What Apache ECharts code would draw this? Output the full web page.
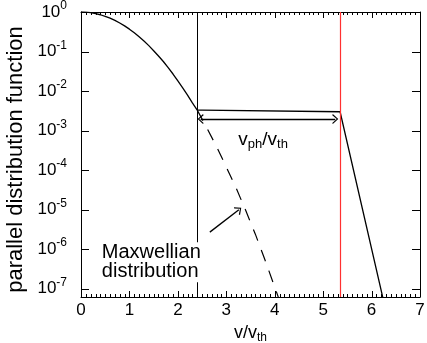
<!DOCTYPE html>
<html>
<head>
<meta charset="utf-8">
<script src="https://cdn.jsdelivr.net/npm/echarts@6/dist/echarts.min.js"></script>
<style>html,body{margin:0;padding:0;background:#fff}#c{width:427px;height:343px}</style>
</head>
<body>
<div id="c"></div>
<script>
// Maxwellian (solid part)
const maxwV = [0, 0.1, 0.2, 0.3, 0.4, 0.5, 0.6, 0.7, 0.8, 0.9, 1.0, 1.1, 1.2, 1.3, 1.4, 1.5, 1.6, 1.7, 1.8, 1.9, 2.0, 2.1, 2.2, 2.3, 2.4];
const maxwF = [1, 0.99, 0.96, 0.914, 0.852, 0.779, 0.698, 0.613, 0.527, 0.445, 0.368, 0.298, 0.237, 0.185, 0.141, 0.105, 0.077, 0.056, 0.039, 0.027, 0.018, 0.012, 0.0079, 0.0050, 0.0033];
// Maxwellian continuation (dashed)
const dashV = [2.4, 2.6, 2.8, 3.0, 3.2, 3.4, 3.6, 3.8, 4.0, 4.1];
const dashF = [0.0033, 0.00116, 3.9e-4, 1.2e-4, 3.6e-5, 9.6e-6, 2.4e-6, 5.3e-7, 1.1e-7, 5e-8];
// plateau and drop
const tailV = [2.4, 2.5, 5.35, 6.3];
const tailF = [0.0033, 0.0033, 0.0030, 2.6e-8];
// vertical markers
const markBlack = 2.4;
const markRed = 5.35;
// double arrow v_ph/v_th
const arrowSpan = [[2.47, 0.00195], [5.25, 0.00195]];
const arrowLabel = [3.76, 5.9e-4];
// Maxwellian annotation arrow
const maxwArrow = [[2.66, 2.7e-6], [3.26, 1.0e-5]];
const maxwLabel = [0.43, 4.7e-7];
// axes
const xMin = 0, xMax = 7;
const yMin = 6.17e-8, yMax = 1;
const xTicks = [0, 1, 2, 3, 4, 5, 6, 7];
const xMinorStep = 0.1;
const yTicks = [1e-7, 1e-6, 1e-5, 1e-4, 1e-3, 1e-2, 1e-1, 1];

const FONT = "'Liberation Sans', Arial, sans-serif";
const TICK_COLOR = '#000000';
const TICK_WIDTH = 1;
const chevron = 'path://M5,0 L10,9 L8.8,10 L5,2.6 L1.2,10 L0,9 Z';

const zip = (a, b) => a.map((v, i) => [v, b[i]]);

function supLabel(value) {
  const l = Math.log10(value);
  const e = Math.round(l);
  if (Math.abs(l - e) > 1e-6) return '';
  return '{b|10}{s|' + e + '}';
}

// draws axis ticks (inside, on all four sides) through the axis scales
function renderTicks(params, api) {
  const cs = params.coordSys;
  const left = cs.x, top = cs.y, right = cs.x + cs.width, bottom = cs.y + cs.height;
  const children = [];
  const seg = (x1, y1, x2, y2) => children.push({type: 'line', shape: {x1: x1, y1: y1, x2: x2, y2: y2},
    style: {stroke: TICK_COLOR, lineWidth: TICK_WIDTH}});
  const yRef = yTicks[yTicks.length - 1];
  xTicks.forEach(v => {
    const px = Math.round(api.coord([v, yRef])[0]) + 0.5;
    seg(px, bottom, px, bottom - 6);
    seg(px, top, px, top + 6);
  });
  for (let i = 1; i < Math.round((xMax - xMin) / xMinorStep); i++) {
    if (i % 10 === 0) continue;
    const v = xMin + i * xMinorStep;
    const px = Math.round(api.coord([v, yRef])[0]) + 0.5;
    seg(px, bottom, px, bottom - 3);
    seg(px, top, px, top + 3);
  }
  yTicks.forEach(v => {
    const py = Math.round(api.coord([xMin, v])[1]) + 0.5;
    seg(left, py, left + 8, py);
    seg(right, py, right - 8, py);
  });
  return {type: 'group', children: children};
}

const chart = echarts.init(document.getElementById('c'), null, {renderer: 'canvas'});
const axisLine = {show: true, onZero: false, lineStyle: {color: '#000', width: 1}};
chart.setOption({
  animation: false,
  backgroundColor: '#fff',
  textStyle: {fontFamily: FONT},
  grid: {left: 81, right: 7, top: 12, bottom: 46, outerBoundsMode: 'none', containLabel: false},
  xAxis: [{
    type: 'value', min: xMin, max: xMax, interval: 1, position: 'bottom',
    axisLine: axisLine, axisTick: {show: false}, minorTick: {show: false},
    splitLine: {show: false},
    axisLabel: {color: '#000', fontSize: 17, fontFamily: FONT, margin: 5},
    name: '{v|v/v}{s|th}', nameLocation: 'middle', nameGap: 21,
    nameTextStyle: {color: '#000', rich: {
      v: {fontSize: 18, fontFamily: FONT, color: '#000'},
      s: {fontSize: 12, fontFamily: FONT, color: '#000', padding: [9, 0, 0, 0]}
    }}
  }, {
    type: 'value', min: xMin, max: xMax, interval: 1, position: 'top',
    axisLine: axisLine, axisTick: {show: false}, minorTick: {show: false},
    splitLine: {show: false}, axisLabel: {show: false}
  }],
  yAxis: [{
    type: 'log', logBase: 10, min: yMin, max: yMax, position: 'left',
    axisLine: axisLine, axisTick: {show: false},
    splitLine: {show: false},
    axisLabel: {
      margin: 14, formatter: supLabel,
      rich: {
        b: {fontSize: 17, fontFamily: FONT, color: '#000'},
        s: {fontSize: 12, fontFamily: FONT, color: '#000', padding: [0, 0, 12, 0]}
      }
    },
    name: 'parallel distribution function', nameLocation: 'middle', nameGap: 47,
    nameTextStyle: {color: '#000', fontSize: 22, fontFamily: FONT, padding: [0, 10, 0, 0]}
  }, {
    type: 'log', logBase: 10, min: yMin, max: yMax, position: 'right',
    axisLine: axisLine, axisTick: {show: false},
    splitLine: {show: false}, axisLabel: {show: false}
  }],
  series: [{
    type: 'custom', name: 'ticks', renderItem: renderTicks, data: [[xMin, yMax]],
    clip: false, silent: true, z: 10
  }, {
    type: 'line', name: 'maxwellian', data: zip(maxwV, maxwF), showSymbol: false,
    lineStyle: {color: '#000', width: 1.3}, z: 3,
    markLine: {
      silent: true, symbol: ['none', 'none'], label: {show: false},
      data: [
        {xAxis: markBlack, lineStyle: {color: '#000', width: 1, type: 'solid'}},
        {xAxis: markRed, lineStyle: {color: '#ff3030', width: 1.2, type: 'solid'}}
      ]
    }
  }, {
    type: 'line', name: 'dashed', data: zip(dashV, dashF), showSymbol: false,
    lineStyle: {color: '#000', width: 1.2, type: [12, 10]}, z: 3
  }, {
    type: 'line', name: 'tail', data: zip(tailV, tailF), showSymbol: false,
    lineStyle: {color: '#000', width: 1.3}, z: 3
  }, {
    type: 'line', name: 'annot', data: [], showSymbol: false, z: 5,
    markLine: {
      silent: true, label: {show: false}, symbol: [chevron, chevron], symbolSize: [10, 6],
      lineStyle: {color: '#000', width: 1.3, type: 'solid'},
      data: [
        [{coord: arrowSpan[0]}, {coord: arrowSpan[1]}],
        [{coord: maxwArrow[0], symbol: 'none'}, {coord: maxwArrow[1], symbol: chevron}]
      ]
    },
    markPoint: {
      silent: true, symbol: 'circle', symbolSize: 0,
      data: [
        {coord: arrowLabel, label: {show: true, formatter: '{v|v}{s|ph}{v|/v}{s|th}', position: 'inside',
          rich: {
            v: {fontSize: 19, fontFamily: FONT, color: '#000'},
            s: {fontSize: 13, fontFamily: FONT, color: '#000', padding: [9, 0, 0, 0]}
          }}},
        {coord: maxwLabel, label: {show: true, formatter: 'Maxwellian\ndistribution', position: 'right',
          distance: 0, align: 'left', fontSize: 20, lineHeight: 19, fontFamily: FONT, color: '#000',
          backgroundColor: '#fff', padding: [1, 2, 1, 0]}}
      ]
    }
  }]
});
</script>
</body>
</html>
